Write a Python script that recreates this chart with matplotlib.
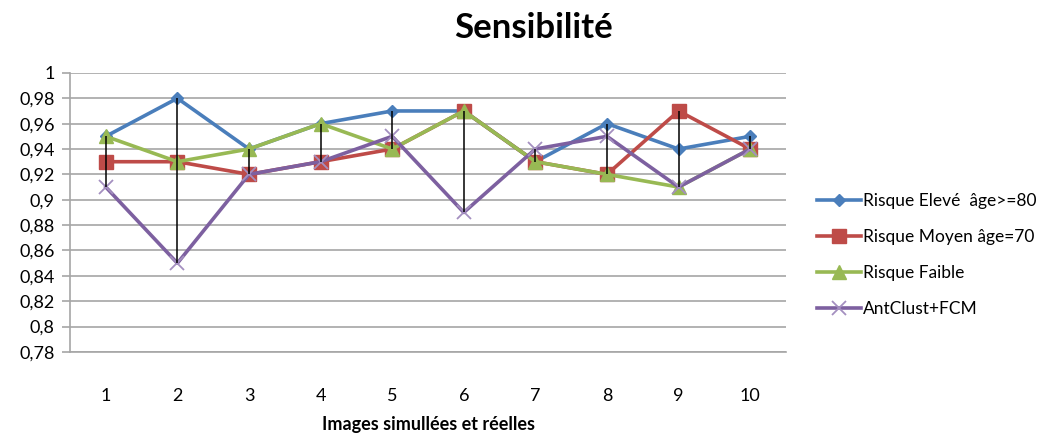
import matplotlib
matplotlib.use("Agg")
import matplotlib.pyplot as plt
import numpy as np

plt.rcParams['font.family'] = ['Lato', 'DejaVu Sans']

images = [1, 2, 3, 4, 5, 6, 7, 8, 9, 10]
risque_eleve = [0.95, 0.98, 0.94, 0.96, 0.97, 0.97, 0.93, 0.96, 0.94, 0.95]
risque_moyen = [0.93, 0.93, 0.92, 0.93, 0.94, 0.97, 0.93, 0.92, 0.97, 0.94]
risque_faible = [0.95, 0.93, 0.94, 0.96, 0.94, 0.97, 0.93, 0.92, 0.91, 0.94]
antclust_fcm = [0.91, 0.85, 0.92, 0.93, 0.95, 0.89, 0.94, 0.95, 0.91, 0.94]

labels = ["Risque Elevé  âge>=80", "Risque Moyen âge=70", "Risque Faible", "AntClust+FCM"]
yticks = [0.78, 0.80, 0.82, 0.84, 0.86, 0.88, 0.90, 0.92, 0.94, 0.96, 0.98, 1.00]

fig = plt.figure(figsize=(10.48, 4.34), dpi=100)
ax = fig.add_axes([0.0668, 0.189, 0.6832, 0.643])

ax.plot(images, risque_eleve, color='#4A7EBB', lw=2.6, marker='D', ms=6.5, label=labels[0], zorder=3)
ax.plot(images, risque_moyen, color='#BE4B48', lw=2.6, marker='s', ms=9.5, label=labels[1], zorder=3)
ax.plot(images, risque_faible, color='#98B954', lw=2.6, marker='^', ms=9.5, label=labels[2], zorder=3)
ax.plot(images, antclust_fcm, color='#7D60A0', lw=2.6, marker='x', ms=10, mew=1.3,
        markeredgecolor='#A48FC0', label=labels[3], zorder=3)

# high-low lines between the largest and smallest value of each image
series = np.array([risque_eleve, risque_moyen, risque_faible, antclust_fcm])
ax.vlines(images, series.min(axis=0), series.max(axis=0), color='black', lw=1.1, zorder=4)

ax.set_xlim(0.5, 10.5)
ax.set_ylim(0.78, 1.0)
ax.set_yticks(yticks)
ax.set_yticklabels([f"{v:.2f}".rstrip('0').rstrip('.').replace('.', ',') for v in yticks])
ax.set_xticks(images)
ax.set_xticklabels([str(i) for i in images])
ax.yaxis.grid(True, color='#A6A6A6', lw=1.2)
ax.set_axisbelow(True)

for s in ['top', 'right']:
    ax.spines[s].set_visible(False)
ax.spines['left'].set_color('#A6A6A6')
ax.spines['bottom'].set_color('#A6A6A6')
ax.spines['left'].set_linewidth(1.2)
ax.spines['bottom'].set_linewidth(1.2)
ax.tick_params(axis='y', length=6, width=1.2, color='#A6A6A6', labelsize=13, pad=5)
ax.tick_params(axis='x', length=0, labelsize=13, pad=26)

fig.text(0.4085, 0.022, "Images simullées et réelles", ha='center', va='center',
         fontsize=13, fontweight='bold')
fig.text(0.509, 0.935, "Sensibilité", ha='center', va='center', fontsize=25, fontweight='bold')

leg = ax.legend(loc='center left', bbox_to_anchor=(1.034, 0.348), frameon=False,
                fontsize=12.5, handlelength=2.5, handletextpad=0.12, labelspacing=1.15,
                borderaxespad=0)

fig.savefig("out.png", dpi=100)
